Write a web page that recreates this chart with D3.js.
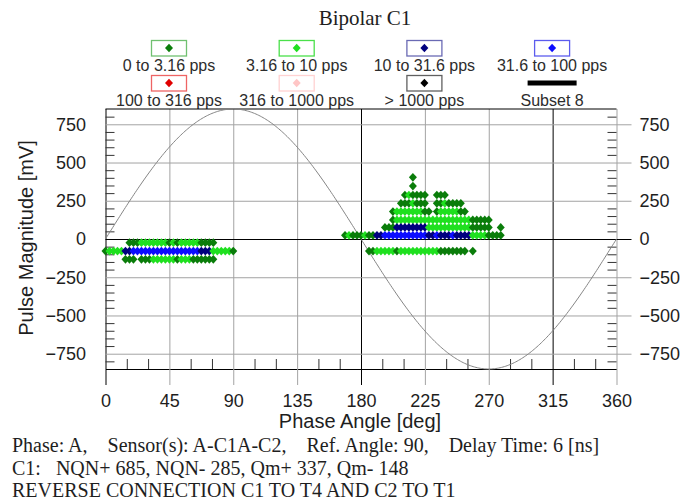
<!DOCTYPE html>
<html>
<head>
<meta charset="utf-8">
<script src="https://cdn.jsdelivr.net/npm/d3@7"></script>
<style>
    body { margin: 0; background: #fff; }
    text { fill: #1e1e1e; }
</style>
</head>
<body>
<script>
const width = 689, height = 502;

// legend categories (pulse repetition rate)
const categoryLabels = ["0 to 3.16 pps", "3.16 to 10 pps", "10 to 31.6 pps", "31.6 to 100 pps",
                        "100 to 316 pps", "316 to 1000 pps", "> 1000 pps"];
const categoryCodes = ["g", "G", "n", "b", "r", "p", "k"];
const subsetLabel = "Subset 8";

// axis ticks
const xTicks = [0, 45, 90, 135, 180, 225, 270, 315, 360];
const xMinorTicks = [15, 30, 60, 75, 105, 120, 150, 165, 195, 210, 240, 255, 285, 300, 330, 345];
const yTicks = [-750, -500, -250, 0, 250, 500, 750];
const yMinorTicks = [-800, -700, -650, -600, -550, -450, -400, -350, -300, -200, -150, -100, -50,
                     50, 100, 150, 200, 300, 350, 400, 450, 550, 600, 650, 700, 800];

// reference sine
const refAmplitude = 850;

// pulse rows: magnitude [mV], first phase bin, one code per phase bin ("." = empty)
const phaseBin = 360 / 128;
const rowMagnitudes = [403, 346, 288, 233, 179, 125, 76, 24, -79,
                       -24, -79, -133];
const rowStartBins = [77, 77, 75, 74, 72, 72, 70, 60, 66,
                      6, 0, 5];
const rowCodes = [
    "g",
    "g",
    "gGgggg..ggg",
    "gggGggg..ggGgggg",
    "gGGGGGGGgg.gGGGGGgg",
    "gGGGGGGGGGGGGGGGGGGGggggg",
    "gggnnnnnnnnGGGGGGGGGGGggggg..g",
    "gGgggGggnnbbbbbbbbbbbnnbnnnbnnnnGGGGgggg",
    "ggGGGGGgGGGGGGGGGGggggggg.g",
    "gggGGGGGGGgGgGGGGGgggg",
    "gGGGGnnbbbbbbbbbbbbbbbbbnnnGGGGGg",
    "ggg.gggGGGGGGgGGGgggggg"
];

const svg = d3.select("body").append("svg")
    .attr("width", width)
    .attr("height", height);

const x = d3.scaleLinear().domain([0, 360]).range([105.5, 616.5]);
const y = d3.scaleLinear().domain([-850, 850]).range([369, 109]);

const color = d3.scaleOrdinal()
    .domain(categoryCodes)
    .range(["#0a7d0a", "#1fe01f", "#00007f", "#0c0cff", "#e00000", "#ffc6c6", "#000000"]);
const boxColor = d3.scaleOrdinal()
    .domain(categoryCodes)
    .range(["#70c070", "#4ae04a", "#6a6ab4", "#5c5cee", "#ee6464", "#ffd2d2", "#606060"]);

const sans = "'Liberation Sans', Arial, sans-serif";
const serif = "'Liberation Serif', 'Times New Roman', serif";
const gray = "#a3a3a3";
const plotH = y(-850) - y(850);
const plotW = x(360) - x(0);

// title
svg.append("text")
    .attr("x", 365).attr("y", 25)
    .attr("text-anchor", "middle")
    .style("font-family", serif)
    .style("font-size", "21px")
    .text("Bipolar C1");

// legend
const diamond = "M0,-4.3L4,0L0,4.3L-4,0Z";
const legendItems = categoryLabels.map((label, i) => ({label: label, code: categoryCodes[i]}));
legendItems.push({label: subsetLabel, code: null});

let legend = svg.append("g").selectAll("g")
    .data(legendItems)
    .join("g")
    .attr("transform", (d, i) => `translate(${169 + (i % 4) * 127.7}, ${40 + Math.floor(i / 4) * 35})`);

legend.filter(d => d.code)
    .append("rect")
    .attr("x", -17.5).attr("y", 0.5)
    .attr("width", 35).attr("height", 15.5)
    .attr("fill", "none")
    .attr("stroke", d => boxColor(d.code))
    .attr("stroke-width", 1.3);

legend.filter(d => d.code)
    .append("path")
    .attr("d", diamond)
    .attr("transform", "translate(0, 8)")
    .attr("fill", d => color(d.code));

legend.filter(d => !d.code)
    .append("rect")
    .attr("x", -24.5).attr("y", 5.5)
    .attr("width", 49).attr("height", 5)
    .attr("fill", "#000");

legend.append("text")
    .attr("y", 31)
    .attr("text-anchor", "middle")
    .style("font-family", sans)
    .style("font-size", "16px")
    .style("fill", "#2c2c2c")
    .text(d => d.label);

// vertical grid + major x ticks
svg.append("g")
    .attr("transform", `translate(0, ${y(-850)})`)
    .call(d3.axisBottom(x).tickValues(xTicks).tickSizeInner(16).tickSizeOuter(0).tickPadding(9))
    .call(g => g.select(".domain").attr("stroke", "#000"))
    .call(g => g.selectAll(".tick line")
        .attr("y1", -plotH)
        .attr("stroke", d => (d == 0 || d == 180 || d == 315) ? "#000" : gray))
    .call(g => g.selectAll(".tick text")
        .style("font-family", sans)
        .style("font-size", "18px")
        .style("fill", "#1e1e1e"));

// minor x ticks (inside)
svg.append("g")
    .attr("transform", `translate(0, ${y(-850)})`)
    .call(d3.axisBottom(x).tickValues(xMinorTicks).tickSize(-10).tickFormat(""))
    .call(g => g.select(".domain").remove())
    .call(g => g.selectAll(".tick line").attr("stroke", "#333"));

// horizontal grid + left labels
svg.append("g")
    .attr("transform", `translate(${x(0)}, 0)`)
    .call(d3.axisLeft(y).tickValues(yTicks).tickSizeInner(9.5).tickSizeOuter(0).tickPadding(10))
    .call(g => g.select(".domain").remove())
    .call(g => g.selectAll(".tick line")
        .attr("x2", plotW + 15)
        .attr("stroke", d => d == 0 ? "#000" : gray))
    .call(g => g.selectAll(".tick text")
        .style("font-family", sans)
        .style("font-size", "18px")
        .style("fill", "#1e1e1e"));

// right labels
svg.append("g")
    .attr("transform", `translate(${x(360)}, 0)`)
    .call(d3.axisRight(y).tickValues(yTicks).tickSizeInner(15).tickSizeOuter(0).tickPadding(8))
    .call(g => g.select(".domain").remove())
    .call(g => g.selectAll(".tick line").remove())
    .call(g => g.selectAll(".tick text")
        .style("font-family", sans)
        .style("font-size", "18px")
        .style("fill", "#1e1e1e"));

// minor y ticks, left and right (inside)
svg.append("g")
    .attr("transform", `translate(${x(0)}, 0)`)
    .call(d3.axisLeft(y).tickValues(yMinorTicks).tickSize(-9).tickFormat(""))
    .call(g => g.select(".domain").remove())
    .call(g => g.selectAll(".tick line").attr("stroke", "#333"));

svg.append("g")
    .attr("transform", `translate(${x(360)}, 0)`)
    .call(d3.axisRight(y).tickValues(yMinorTicks).tickSize(-9).tickFormat(""))
    .call(g => g.select(".domain").remove())
    .call(g => g.selectAll(".tick line").attr("stroke", "#333"));

// frame top
svg.append("line")
    .attr("x1", x(0)).attr("x2", x(360))
    .attr("y1", y(850)).attr("y2", y(850))
    .attr("stroke", "#000");

// reference sine
const sinePhases = d3.range(0, 361, 1);
svg.append("path")
    .datum(sinePhases)
    .attr("fill", "none")
    .attr("stroke", "#858585")
    .attr("stroke-width", 1)
    .attr("d", d3.line()
        .x(d => x(d))
        .y(d => y(refAmplitude * Math.sin(d * Math.PI / 180))));

// pulses
const pulses = rowCodes.flatMap((codes, r) =>
    codes.split("").map((c, k) => ({
        phase: (rowStartBins[r] + k) * phaseBin,
        mag: rowMagnitudes[r],
        code: c
    })).filter(d => d.code != "."));

svg.append("g").selectAll("path")
    .data(pulses)
    .join("path")
    .attr("d", diamond)
    .attr("transform", d => `translate(${x(d.phase)}, ${y(d.mag)})`)
    .attr("fill", d => color(d.code));

// axis titles
svg.append("text")
    .attr("x", 360).attr("y", 428)
    .attr("text-anchor", "middle")
    .style("font-family", sans)
    .style("font-size", "20px")
    .text("Phase Angle [deg]");

svg.append("text")
    .attr("transform", "translate(33, 238) rotate(-90)")
    .attr("text-anchor", "middle")
    .style("font-family", sans)
    .style("font-size", "20px")
    .text("Pulse Magnitude [mV]");

// footer notes
const notes = [
    "Phase: A,    Sensor(s): A-C1A-C2,    Ref. Angle: 90,    Delay Time: 6 [ns]",
    "C1:   NQN+ 685, NQN- 285, Qm+ 337, Qm- 148",
    "REVERSE CONNECTION C1 TO T4 AND C2 TO T1"
];

svg.append("g").selectAll("text")
    .data(notes)
    .join("text")
    .attr("x", 12)
    .attr("y", (d, i) => 452 + i * 22.5)
    .style("font-family", serif)
    .style("font-size", "20px")
    .style("white-space", "pre")
    .text(d => d);
</script>
</body>
</html>
